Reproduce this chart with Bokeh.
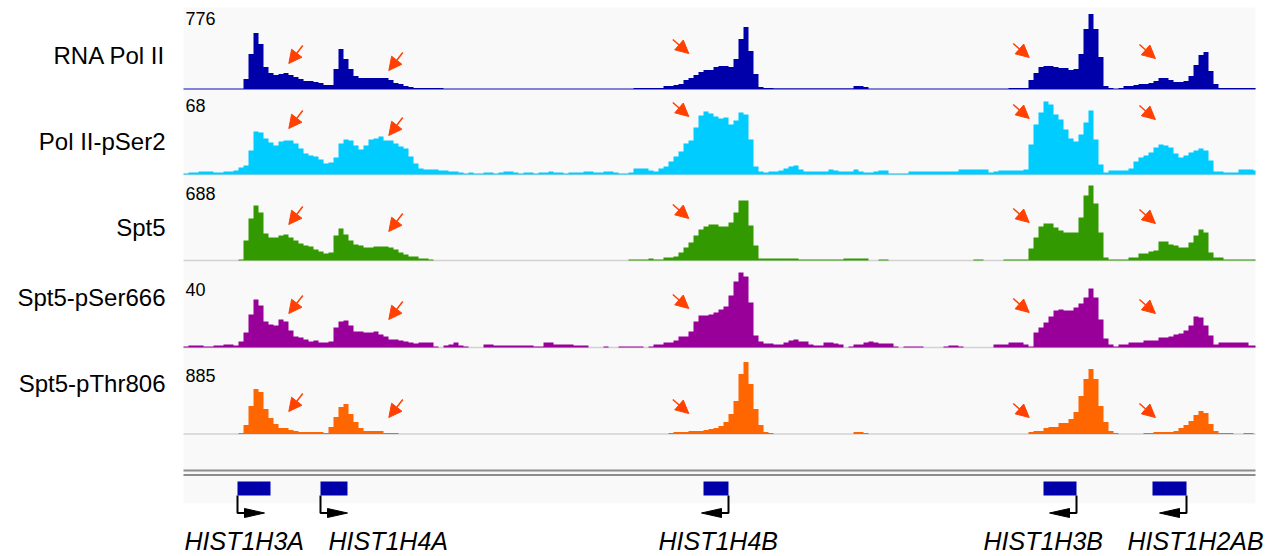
from bokeh.plotting import figure
from bokeh.models import Range1d, ColumnDataSource, Arrow, NormalHead
from bokeh.core.properties import value
from bokeh.embed import file_html
from bokeh.resources import INLINE

# ---------------- data (one value per genomic bin) ----------------
track_names = ["RNA Pol II", "Pol II-pSer2", "Spt5", "Spt5-pSer666", "Spt5-pThr806"]
track_max = [776, 68, 688, 40, 885]
track_colors = ["#0000aa", "#00ccff", "#339900", "#990099", "#ff6600"]

rna_pol2 = ([0] * 12 +
            [97, 340, 543, 437, 213, 155, 136, 146, 155, 136, 116, 97, 78, 78, 68, 58, 39, 39, 194, 388,
             291, 194, 126, 107, 107, 107, 107, 107, 107, 87, 58, 49, 29, 19, 10, 10, 10, 10, 10, 10] +
            [0] * 38 +
            [10, 10, 10, 10, 10, 10, 29, 29, 39, 49, 87, 107, 136, 165, 184, 184, 213, 223, 223, 213,
             291, 485, 601, 369, 146, 19, 10, 10] +
            [5] * 16 + [29, 29, 19] + [0] * 28 +
            [10, 10, 10, 10, 87, 155, 213, 223, 223, 213, 204, 204, 184, 194, 340, 582, 728, 582, 310, 29,
             10, 0, 10, 29, 29, 39, 49, 49, 58, 78, 107, 107, 87, 68, 68, 78, 126, 233, 330, 359, 175, 49] +
            [10] * 8)

pol2_pser2 = [0.9, 1.7, 1.7, 2.6, 2.6, 2.6, 1.7, 1.7, 2.6, 2.6, 3.4, 6.0, 7.7,
              20.4, 36.6, 35.7, 30.6, 27.2, 24.7, 28.1, 28.9, 28.9, 26.4, 22.1, 17.9, 16.2, 15.3, 12.8, 9.4, 10.2,
              14.5, 26.4, 29.8, 28.9, 24.7, 21.3, 24.7, 29.8, 30.6, 32.3, 28.9, 28.9, 26.4, 23.8, 22.1, 15.3, 9.4,
              5.1, 4.3, 4.3, 4.3, 3.4, 3.4, 2.6, 2.6,
              1.7, 0.9, 1.7, 0.9, 0.9, 1.7, 1.7, 0.9, 1.7, 2.6,
              2.6, 1.7, 0.9, 1.7, 1.7, 0.9, 1.7, 1.7, 2.6, 1.7, 1.7, 0.9, 1.7, 1.7, 1.7, 2.6, 2.6, 1.7, 1.7, 2.6,
              2.6, 1.7, 0.9, 0.9, 1.7,
              5.1, 5.1, 5.1, 3.4, 2.6, 5.1, 6.8, 11.1, 15.3, 19.6, 26.4, 28.9, 40.0, 50.2, 53.6, 51.9, 49.3, 47.6,
              48.5, 42.5, 45.9, 52.7, 51.0, 29.8, 6.8,
              2.6, 1.7, 2.6, 2.6, 3.4, 5.1, 6.8, 7.7, 4.3, 2.6, 2.6, 2.6, 2.6, 2.6, 4.3, 3.4, 2.6, 2.6, 2.6, 4.3,
              2.6, 1.7, 1.7, 2.6, 3.4, 3.4,
              0.9, 0.9, 0.9, 0.9, 2.6, 2.6, 2.6, 2.6, 2.6, 2.6, 2.6, 2.6, 2.6, 2.6, 4.3, 4.3, 4.3, 4.3, 4.3, 4.3,
              1.7, 2.6, 3.4, 3.4, 3.4, 3.4, 3.4, 4.3,
              25.5, 42.5, 52.7, 62.1, 59.5, 51.0, 46.8, 38.3, 30.6, 28.1, 34.0, 44.2, 54.4, 29.8, 8.5, 1.7,
              3.4, 3.4, 3.4, 3.4, 5.1, 11.1, 14.5, 16.2, 18.7, 23.0, 25.5, 24.7, 23.0, 17.9, 14.5, 16.2, 18.7,
              20.4, 22.1, 20.4, 11.9, 2.6, 2.6, 1.7, 1.7, 1.7, 4.3, 4.3, 4.3, 3.4]

spt5 = ([0] * 11 +
        [9, 172, 361, 473, 413, 232, 198, 198, 215, 224, 198, 172, 146, 129, 120, 95, 77, 60, 69, 215,
         275, 224, 172, 138, 129, 112, 112, 120, 120, 120, 112, 95, 69, 52, 34, 34, 17, 17, 9] +
        [0] * 39 +
        [9, 9, 9, 9, 17, 9, 9, 26, 26, 34, 69, 112, 155, 215, 267, 292, 310, 310, 292, 292,
         327, 413, 516, 516, 301, 129, 17] +
        [17] * 7 + [9] * 9 + [17] * 5 + [0, 0, 9, 9] + [0] * 17 + [9, 9] + [0] * 4 +
        [9, 9, 9, 9, 9, 103, 198, 292, 318, 318, 284, 258, 241, 241, 241,
         370, 559, 645, 490, 241, 26, 9, 9, 9, 9, 26, 26, 60, 60, 77, 86, 163, 163, 138, 129,
         112, 112, 155, 215, 267, 241, 69, 26, 26] +
        [9] * 7)

spt5_pser666 = [0.5, 1, 1, 1, 0.5, 0.5, 1, 1, 1.5, 1.5, 1,
                3, 7.5, 16.5, 24, 21, 13, 11.5, 11, 14, 13, 8.5, 5.5, 5, 4, 3, 3.5, 2.5, 2.5, 3,
                10, 13, 13.5, 11, 8, 8, 7.5, 7.5, 8, 6.5, 5.5, 4, 4, 3.5, 3, 2.5, 2, 2.5, 2.5, 2.5, 0.5,
                0, 1, 1.5, 2.5, 1, 0.5, 0, 0, 0, 1.5, 1.5, 1, 1, 1, 1, 1, 1, 1, 1, 0.5, 0.5,
                2.5, 2.5, 1.5, 1.5, 1.5, 1.5, 1, 1, 1, 0, 0, 0, 0.5, 0, 0, 0.5, 0.5, 0.5, 0.5, 0.5, 0, 0.5,
                1.5, 1.5, 2.5, 2.5, 3.5, 5.5, 5.5, 8, 13, 16, 16, 16.5, 17.5, 19, 20.5, 26, 33, 37.5, 35.5,
                22.5, 6, 3,
                2, 2, 1.5, 1.5, 2.5, 3.5, 4, 3, 3, 1.5, 1, 1, 2.5, 2.5, 2, 1.5, 0, 0.5, 1.5, 1.5, 2.5, 3,
                2.5, 2, 2, 2, 0.5,
                0, 0.5, 0.5, 0.5, 0.5, 0, 0, 0, 0, 0.5, 1, 1, 0.5, 0, 0, 0, 0, 0, 0, 1.5, 1.5, 1.5, 2.5,
                2.5, 2.5, 1.5, 0.5,
                7.5, 10, 12.5, 15.5, 18.5, 19, 18.5, 18.5, 20, 22, 25, 29.5, 25, 14, 4.5, 1.5, 0.5,
                1.5, 1.5, 2.5, 2.5, 2.5, 3.5, 3.5, 3.5, 5, 5, 5.5, 6.5, 7, 8.5, 11, 15.5, 15, 11, 6, 1.5,
                2.5, 2.5, 2.5, 2.5, 2.5, 2.5, 1, 1]

spt5_pthr806 = ([0] * 11 +
                [11, 100, 310, 498, 465, 277, 177, 111, 66, 66, 44, 33, 22, 22, 22, 22, 22, 11, 77, 188,
                 299, 332, 221, 133, 66, 33, 33, 33, 33, 11, 11, 11] +
                [0] * 54 +
                [11, 22, 22, 22, 33, 33, 33, 44, 55, 66, 88, 133, 221, 365, 664, 796, 553, 277, 100, 22, 11] +
                [0] * 16 + [22, 22, 11] + [0] * 32 +
                [22, 33, 33, 66, 77, 77, 122, 122, 166, 243, 420, 608, 719, 608, 310, 133, 33, 11] +
                [0] * 5 +
                [11, 11, 22, 22, 22, 22, 33, 66, 100, 144, 210, 254, 232, 111, 33, 11, 11, 11, 0, 0, 11, 11, 0])

tracks = [rna_pol2, pol2_pser2, spt5, spt5_pser666, spt5_pthr806]

# genes: start / end in bins, strand
gene_names = ["HIST1H3A", "HIST1H4A", "HIST1H4B", "HIST1H3B", "HIST1H2AB"]
gene_start = [10.8, 27.4, 104.0, 172.0, 193.8]
gene_end = [17.4, 32.8, 109.0, 178.6, 200.6]
gene_strand = ["+", "+", "-", "-", "-"]

# ---------------- layout ----------------
W, H = 1273, 556
BIN_PX = 5.0
X0_PX = 183.0
X1_PX = 1255.0
XMAX = (X1_PX - X0_PX) / BIN_PX
TRACK_H = 80.0
baselines = [88.5, 174.0, 260.0, 347.0, 433.5]
name_y = [55, 141, 227, 297, 383]
max_y = [18, 105, 193, 289, 375]

def px(xp):
    return (xp - X0_PX) / BIN_PX

p = figure(width=W, height=H, output_backend="svg", toolbar_location=None,
           x_range=Range1d(-X0_PX / BIN_PX, (W - X0_PX) / BIN_PX),
           y_range=Range1d(H, 0),
           x_axis_location=None, y_axis_location=None, min_border=0,
           background_fill_color="white", border_fill_color="white")
p.outline_line_color = None
p.grid.visible = False
p.min_border_left = p.min_border_right = p.min_border_top = p.min_border_bottom = 0

# gray panel
p.quad(left=[0], right=[XMAX], top=[7], bottom=[503], fill_color="#f9f9f9", line_color=None)

for k, vals in enumerate(tracks):
    name = "t%d" % k
    b = baselines[k]
    m = track_max[k]
    p.extra_y_ranges[name] = Range1d((b - H) * m / TRACK_H, b * m / TRACK_H)
    base_col = "#5a5acc" if k == 0 else "#d2d2d2"
    p.line([0, XMAX], [0, 0], y_range_name=name, line_color=base_col, line_width=1.5)
    xs, ys = [0.0], [0.0]
    for i, v in enumerate(vals):
        r = min(i + 1.0, XMAX)
        xs += [float(i), r]
        ys += [v, v]
    xs.append(min(float(len(vals)), XMAX))
    ys.append(0.0)
    p.patch(xs, ys, y_range_name=name, fill_color=track_colors[k], line_color=None)

# track names and data-range labels
p.text(x=[px(165)] * 5, y=name_y, text=track_names, text_font=value("Liberation Sans"),
       text_font_size="24px", text_align="right", text_baseline="middle", text_color="black")
p.text(x=[px(185)] * 5, y=max_y, text=[str(m) for m in track_max], text_font=value("Liberation Sans"),
       text_font_size="18px", text_align="left", text_baseline="middle", text_color="black")

# double separator line
for yy in (470, 474.5):
    p.line([0, XMAX], [yy, yy], line_color="#8c8c8c", line_width=2)

# gene boxes
p.quad(left=gene_start, right=gene_end, top=[481] * 5, bottom=[495] * 5,
       fill_color="#0000aa", line_color=None)

# bent TSS arrows
lx, ly, hx, hy = [], [], [], []
for s, e, st in zip(gene_start, gene_end, gene_strand):
    tss = s if st == "+" else e
    d = 1 if st == "+" else -1
    base = tss + d * 7 / BIN_PX
    tip = tss + d * 27 / BIN_PX
    lx.append([tss, tss, base])
    ly.append([495, 512.5, 512.5])
    hx.append([base, tip, base])
    hy.append([508, 512.5, 517])
p.multi_line(lx, ly, line_color="black", line_width=2)
p.patches(hx, hy, fill_color="black", line_color="black", line_width=1)

gene_label_x = [px(184), px(328), px(658), px(983), px(1127)]
p.text(x=gene_label_x, y=[540] * 5, text=gene_names, text_font=value("Liberation Sans"),
       text_font_size="25px", text_font_style="italic", text_align="left", text_baseline="middle",
       text_color="black")

# red arrows pointing at gene-body signal
arrow_tip_x = [px(288.3), px(388.3), px(688.3), px(1028.7), px(1154.9)]
arrow_dir = [(14, -18), (14, -18), (-16, -14), (-16, -14), (-16, -14)]
arrow_tip_y = [[63, 70, 53, 57, 58],
               [128, 135, 116, 118, 119],
               [224, 231, 218, 222, 223],
               [313, 319, 308, 312, 313],
               [411, 417, 413, 417, 417]]
xs0, ys0, xs1, ys1 = [], [], [], []
for row in arrow_tip_y:
    for tx, ty, (dx, dy) in zip(arrow_tip_x, row, arrow_dir):
        xs0.append(tx + dx / BIN_PX)
        ys0.append(ty + dy)
        xs1.append(tx)
        ys1.append(ty)
asrc = ColumnDataSource(dict(x0=xs0, y0=ys0, x1=xs1, y1=ys1))
RED = "#ff4000"
p.add_layout(Arrow(source=asrc, x_start="x0", y_start="y0", x_end="x1", y_end="y1",
                   line_color=RED, line_width=1.5,
                   end=NormalHead(size=13, fill_color=RED, line_color=RED, line_width=1)))

open("out.html", "w").write(file_html(p, INLINE))
